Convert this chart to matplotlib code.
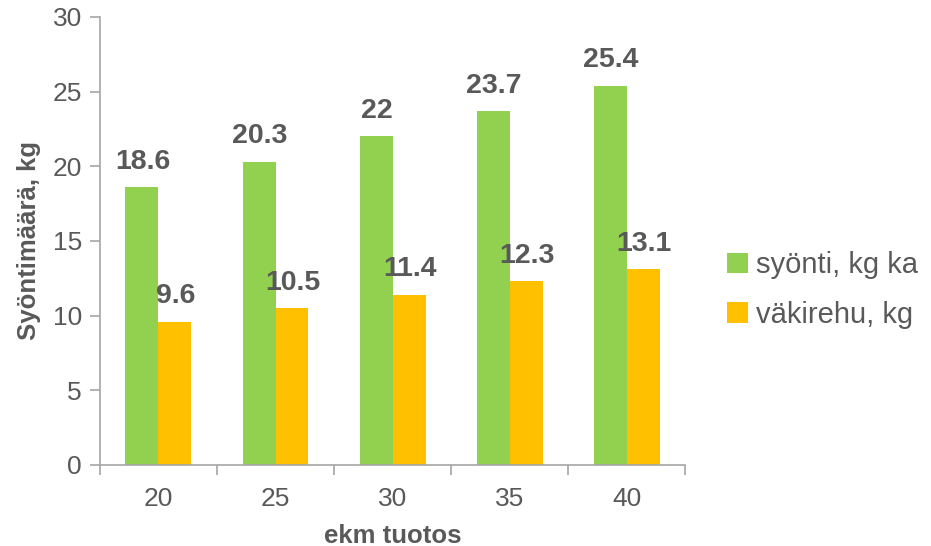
import matplotlib.pyplot as plt
import numpy as np

plt.rcParams['font.family'] = ['Liberation Sans', 'DejaVu Sans']

categories = ["20", "25", "30", "35", "40"]
syonti = [18.6, 20.3, 22, 23.7, 25.4]
vakirehu = [9.6, 10.5, 11.4, 12.3, 13.1]

GREEN = "#92D050"
ORANGE = "#FFC000"
TEXT = "#595959"
AXIS = "#A6A6A6"

fig = plt.figure(figsize=(9.31, 5.46), dpi=100)
ax = fig.add_axes([0.1074, 0.1484, 0.6284, 0.8205])

x = np.arange(len(categories))
w = 0.282
b1 = ax.bar(x - w / 2, syonti, w, color=GREEN, label="syönti, kg ka")
b2 = ax.bar(x + w / 2, vakirehu, w, color=ORANGE, label="väkirehu, kg")

for bars, vals in ((b1, syonti), (b2, vakirehu)):
    for bar, v in zip(bars, vals):
        ax.annotate(f"{v:g}", (bar.get_x() + bar.get_width() / 2, v),
                    xytext=(0.5, 9), textcoords="offset points",
                    ha="center", va="bottom", fontsize=20.5,
                    fontweight="bold", color=TEXT)

ax.set_xlim(-0.5, len(categories) - 0.5)
ax.set_ylim(0, 30)
ax.set_yticks(range(0, 31, 5))
ax.set_xticks(x)
ax.set_xticklabels(categories)
ax.set_xticks(np.arange(-0.5, len(categories)), minor=True)
ax.tick_params(axis="x", which="major", length=0, labelsize=19, labelcolor=TEXT, pad=16)
ax.tick_params(axis="x", which="minor", length=7, color=AXIS, width=1.2)
ax.tick_params(axis="y", length=7, color=AXIS, width=1.2, labelsize=19, labelcolor=TEXT, pad=6)

for s in ("top", "right"):
    ax.spines[s].set_visible(False)
for s in ("left", "bottom"):
    ax.spines[s].set_color(AXIS)
    ax.spines[s].set_linewidth(1.2)

ax.set_xlabel("ekm tuotos", fontsize=18.5, fontweight="bold", color=TEXT, labelpad=9)
ax.set_ylabel("Syöntimäärä, kg", fontsize=18.5, fontweight="bold", color=TEXT, labelpad=8)

fig.legend(handles=[b1, b2], loc="center left", bbox_to_anchor=(0.753, 0.469),
           frameon=False, fontsize=21, labelcolor=TEXT, handlelength=0.7,
           handleheight=0.7, handletextpad=0.3, labelspacing=0.75)

fig.savefig("out.png", dpi=100)
